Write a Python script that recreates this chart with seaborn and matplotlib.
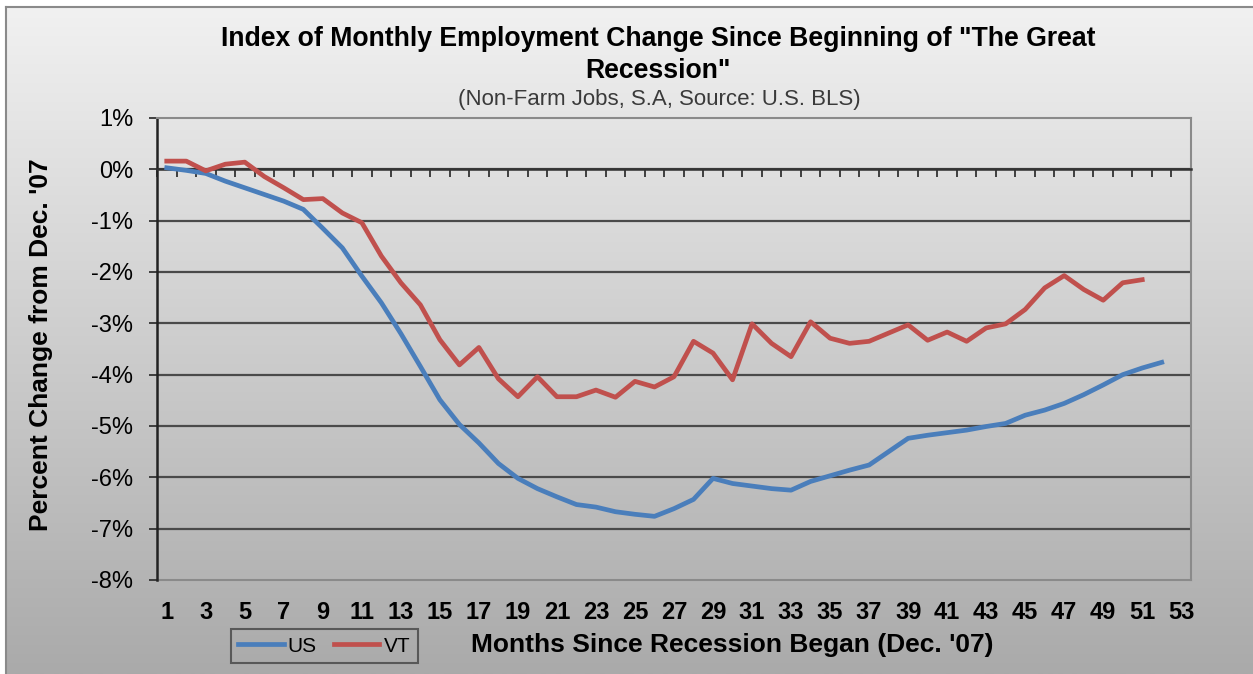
import numpy as np
import pandas as pd
import matplotlib
matplotlib.use("Agg")
import matplotlib.pyplot as plt
import seaborn as sns

# Monthly non-farm employment, percent change from Dec. 2007
us_pct = [0.03, -0.02, -0.08, -0.23, -0.36, -0.49, -0.62, -0.78, -1.15, -1.53,
          -2.08, -2.60, -3.20, -3.84, -4.49, -4.97, -5.33, -5.73, -6.02, -6.22,
          -6.38, -6.53, -6.58, -6.67, -6.72, -6.76, -6.61, -6.43, -6.02, -6.12,
          -6.17, -6.22, -6.25, -6.08, -5.97, -5.86, -5.76, -5.50, -5.24, -5.18,
          -5.13, -5.08, -5.01, -4.95, -4.79, -4.69, -4.56, -4.39, -4.20, -4.00,
          -3.87, -3.76]
vt_pct = [0.16, 0.16, -0.03, 0.10, 0.14, -0.14, -0.36, -0.59, -0.57, -0.85,
          -1.04, -1.69, -2.21, -2.64, -3.32, -3.81, -3.47, -4.08, -4.43, -4.04,
          -4.43, -4.43, -4.30, -4.44, -4.13, -4.24, -4.04, -3.35, -3.58, -4.10,
          -3.01, -3.39, -3.65, -2.97, -3.29, -3.39, -3.35, -3.19, -3.03, -3.33,
          -3.17, -3.35, -3.09, -3.01, -2.73, -2.31, -2.07, -2.34, -2.55, -2.21,
          -2.15]
series_names = ["US", "VT"]
series_colors = ["#4a7ebb", "#c0504d"]

n_months = 53
x_tick_labels = [str(m) for m in range(1, n_months + 1, 2)]
y_ticks = [1, 0, -1, -2, -3, -4, -5, -6, -7, -8]

title_text = 'Index of Monthly Employment Change Since Beginning of "The Great\nRecession"'
subtitle_text = "(Non-Farm Jobs, S.A, Source: U.S. BLS)"
x_label = "Months Since Recession Began (Dec. '07)"
y_label = "Percent Change from Dec. '07"

df = pd.concat([
    pd.DataFrame({"month": np.arange(1, len(us_pct) + 1), "pct": us_pct, "series": "US"}),
    pd.DataFrame({"month": np.arange(1, len(vt_pct) + 1), "pct": vt_pct, "series": "VT"}),
], ignore_index=True)

plt.rcParams["font.family"] = ["Liberation Sans", "DejaVu Sans"]

W, H = 1253, 674
fig = plt.figure(figsize=(W / 100, H / 100), dpi=100, facecolor="white")

# gradient chart-area background with a thin frame on the left/top edge
bg = fig.add_axes([6 / W, 0, 1 - 6 / W, 1 - 7 / H], zorder=-5)
grad = np.linspace(0, 1, 256).reshape(-1, 1)
top_c = np.array([0xf1, 0xf1, 0xf1]) / 255
bot_c = np.array([0xaa, 0xaa, 0xaa]) / 255
img = top_c[None, None, :] * (1 - grad[..., None]) + bot_c[None, None, :] * grad[..., None]
bg.imshow(img, aspect="auto", extent=[0, 1, 0, 1], origin="upper")
bg.set_xlim(0, 1)
bg.set_ylim(0, 1)
bg.set_xticks([])
bg.set_yticks([])
for s in ["right", "bottom"]:
    bg.spines[s].set_visible(False)
for s in ["left", "top"]:
    bg.spines[s].set_color("#8a8a8a")
    bg.spines[s].set_linewidth(1.5)

ax = fig.add_axes([157 / W, 1 - 580 / H, (1191 - 157) / W, (580 - 118) / H])
ax.set_facecolor("none")

sns.lineplot(data=df, x="month", y="pct", hue="series", hue_order=series_names,
             palette=dict(zip(series_names, series_colors)), linewidth=3.4,
             ax=ax, legend=True, zorder=5)

ax.set_xlim(0.5, n_months + 0.5)
ax.set_ylim(min(y_ticks), max(y_ticks))
ax.set_yticks(y_ticks)
ax.set_yticklabels([f"{v}%" for v in y_ticks], fontsize=17)
ax.tick_params(axis="y", direction="out", length=6, width=1.3, color="#333333", pad=11)

# horizontal gridlines between the frame edges
ax.grid(axis="y", color="#4a4a4a", linewidth=1.6)
ax.grid(axis="x", visible=False)
for t in ax.yaxis.get_major_ticks():
    if t.get_loc() in (min(y_ticks), max(y_ticks)):
        t.gridline.set_visible(False)

# category axis crossing at zero with tick marks between categories
ax.spines["bottom"].set_position(("data", 0))
ax.spines["bottom"].set_color("#333333")
ax.spines["bottom"].set_linewidth(1.8)
ax.spines["bottom"].set_zorder(4)
ax.set_xticks(np.arange(0.5, n_months + 1, 1.0), minor=True)
ax.set_xticks([])
ax.tick_params(axis="x", which="minor", direction="out", length=6, width=1.3,
               color="#333333", labelbottom=False)
ax.set_xlabel("")
ax.set_ylabel("")

ax.spines["left"].set_color("#222222")
ax.spines["left"].set_linewidth(1.8)
for s in ["top", "right"]:
    ax.spines[s].set_color("#8a8a8a")
    ax.spines[s].set_linewidth(1.5)

# bottom frame with month labels
sec = ax.secondary_xaxis("bottom")
sec.set_xticks(list(range(1, n_months + 1, 2)))
sec.set_xticklabels(x_tick_labels, fontsize=17, fontweight="bold")
sec.tick_params(axis="x", length=0, pad=15)
sec.spines["bottom"].set_color("#8a8a8a")
sec.spines["bottom"].set_linewidth(1.5)

# titles and axis labels
fig.text(658 / W, 1 - 55 / H, title_text, ha="center", va="center", fontsize=19.2,
         fontweight="bold", linespacing=1.35)
fig.text(659 / W, 1 - 100 / H, subtitle_text, ha="center", va="center", fontsize=16,
         color="#3a3a3a")
fig.text(41 / W, 1 - 345 / H, y_label, ha="center", va="center", rotation=90,
         fontsize=19, fontweight="bold")
fig.text(732 / W, 1 - 645 / H, x_label, ha="center", va="center", fontsize=19,
         fontweight="bold")

sns.move_legend(ax, loc="center", bbox_to_anchor=(324 / W, 1 - 646 / H),
                bbox_transform=fig.transFigure, ncol=2, title=None, frameon=True,
                fontsize=15, handlelength=2.2, handletextpad=0.2, columnspacing=0.8,
                borderpad=0.35, fancybox=False)
leg = ax.get_legend()
leg.get_frame().set_edgecolor("#444444")
leg.get_frame().set_facecolor("none")
leg.get_frame().set_linewidth(1.5)
for ln in leg.get_lines():
    ln.set_linewidth(3.4)

fig.savefig("out.png", dpi=100, facecolor="white")
